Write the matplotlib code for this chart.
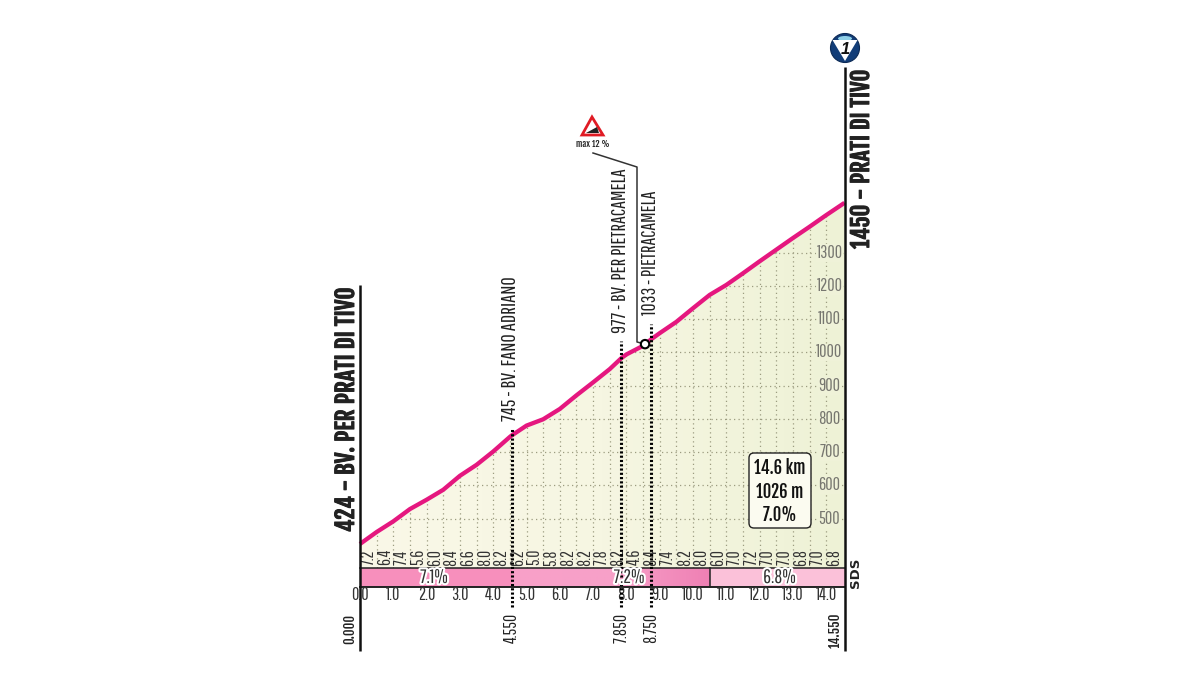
import numpy as np
import matplotlib
matplotlib.use("Agg")
import matplotlib.pyplot as plt
from matplotlib.colors import LinearSegmentedColormap
from matplotlib.patches import Polygon, FancyBboxPatch, Circle, Ellipse
import matplotlib.patheffects as pe

## profile data
km = [0.0, 0.5, 1.0, 1.5, 2.0, 2.5, 3.0, 3.5, 4.0, 4.5, 4.55, 5.0, 5.5, 6.0, 6.5, 7.0, 7.5,
      7.85, 8.0, 8.5, 8.75, 9.0, 9.5, 10.0, 10.5, 11.0, 11.5, 12.0, 12.5, 13.0, 13.5, 14.0, 14.55]
elev = [424, 460, 492, 529, 557, 587, 629, 662, 702, 746, 750, 780, 799, 830, 871, 910, 950,
        983, 994, 1020, 1040, 1058, 1092, 1133, 1173, 1203, 1238, 1274, 1309, 1344, 1378, 1413, 1450]

gradients = ["7.2", "6.4", "7.4", "5.6", "6.0", "8.4", "6.6", "8.0", "8.2", "6.2", "5.0", "5.8",
             "8.2", "8.2", "7.8", "8.2", "4.6", "8.4", "7.4", "8.2", "8.0", "6.0", "7.0", "7.2",
             "7.0", "7.0", "6.8", "7.0", "6.8"]
km_ticks = [1.0, 2.0, 3.0, 4.0, 5.0, 6.0, 7.0, 8.0, 9.0, 10.0, 11.0, 12.0, 13.0, 14.0]
elev_ticks = [500, 600, 700, 800, 900, 1000, 1100, 1200, 1300]

section_edges = [0.0, 4.55, 10.5, 14.55]
section_labels = ["7.1%", "7.2%", "6.8%"]
section_label_km = [2.22, 8.08, 12.6]

waypoint_km = [4.55, 7.85, 8.75]
waypoint_km_labels = ["4.550", "7.850", "8.750"]
waypoint_names = ["745 - BV. FANO ADRIANO", "977 - BV. PER PIETRACAMELA", "1033 - PIETRACAMELA"]

steep_km = 8.56
steep_elev = 1025

## pixel places of the waypoint decorations
waypoint_line_top = [429, 341, 324]
waypoint_label_bottom = [421, 333, 315]
waypoint_label_len = [144, 162, 123]

FONT = ["Pathway Gothic One", "PT Sans Narrow", "Liberation Sans", "DejaVu Sans"]
FONT_BOLD = ["Fjalla One", "PT Sans Narrow", "Liberation Sans", "DejaVu Sans"]
PINK = "#e5177f"
GRID = "#9c9c80"
heavy = [pe.withStroke(linewidth=0.7, foreground="#222222")]

fig = plt.figure(figsize=(12, 6.75), dpi=100, facecolor="white")

## main axes covers the whole figure: 33.3 px per km, 0.3325 px per m
ax = fig.add_axes([0, 0, 1, 1])
ax.axis("off")
xlim = (-360 / 33.3, (1200 - 360) / 33.3)
ylim = (500 - (675 - 518.7) / 0.3325, 500 + 518.7 / 0.3325)
base_elev = 352
band_top = 351
band_bottom = 295


def fit(t, length):
    ## scale a text so its long side is length pixels, whichever font was found
    box = t.get_window_extent(fig.canvas.get_renderer())
    t.set_fontsize(t.get_fontsize() * length / max(box.width, box.height))
    return t


## filled area under the climb
poly = Polygon([(0, base_elev)] + list(zip(km, elev)) + [(14.55, base_elev)], closed=True,
               transform=ax.transData, facecolor="none", edgecolor="none")
ax.add_patch(poly)
fill_cmap = LinearSegmentedColormap.from_list("fill", ["#faf8e8", "#f6f6e2", "#eef2d6"])
img = ax.imshow(np.linspace(0, 1, 256).reshape(1, -1), cmap=fill_cmap, aspect="auto",
                extent=(0, 14.55, base_elev, 1450), zorder=1)
img.set_clip_path(poly)

## grid
for e in elev_ticks:
    l, = ax.plot([0, 14.55], [e, e], color=GRID, lw=0.9, ls=(0, (1, 2.6)), zorder=2)
    l.set_clip_path(poly)
for x in np.arange(0.5, 14.5, 0.5):
    ax.plot([x, x], [base_elev, np.interp(x, km, elev)], color=GRID, lw=0.9, ls=(0, (1, 2.6)), zorder=2)

## gradient per half km
for i, g in enumerate(gradients):
    ax.text(0.25 + i * 0.5, 384, g, rotation=90, ha="center", va="center", fontsize=12.5,
            family=FONT, color="#333333", zorder=3)

## gradient sections band
ax.fill_between([section_edges[0], section_edges[1]], band_bottom, band_top, color="#f78fbc", lw=0, zorder=2)
band_cmap = LinearSegmentedColormap.from_list("band", ["#f9a0c8", "#f7a0c8", "#ef80b4"])
ax.imshow(np.linspace(0, 1, 128).reshape(1, -1), cmap=band_cmap, aspect="auto",
          extent=(section_edges[1], section_edges[2], band_bottom, band_top), zorder=2)
ax.fill_between([section_edges[2], section_edges[3]], band_bottom, band_top, color="#fbc1d9", lw=0, zorder=2)
ax.plot([0, 14.55], [band_top, band_top], color="#222222", lw=1.1, zorder=3)
ax.plot([0, 14.55], [band_bottom, band_bottom], color="#222222", lw=1.4, zorder=3)
ax.plot([10.5, 10.5], [band_bottom, band_top], color="#222222", lw=1.1, zorder=3)

## km and elevation scales
ax.text(0, 271, "0.0", ha="center", va="center", fontsize=13, family=FONT, color="#333333")
for x in km_ticks:
    ax.text(x, 271, "%.1f" % x, ha="center", va="center", fontsize=13, family=FONT, color="#333333")
for e in elev_ticks:
    ax.text(14.1, e, str(e), ha="center", va="center", fontsize=13, family=FONT, color="#777770", zorder=3,
            bbox=dict(facecolor="#eff2d8", edgecolor="none", pad=0.6))

ax.set_xlim(xlim)
ax.set_ylim(ylim)

## overlay in pixels for the decorations
ov = fig.add_axes([0, 0, 1, 1], facecolor="none")
ov.axis("off")
ov.set_xlim(0, 1200)
ov.set_ylim(675, 0)

## waypoints
for x, name, lab, top, bottom, length in zip(waypoint_km, waypoint_names, waypoint_km_labels,
                                             waypoint_line_top, waypoint_label_bottom, waypoint_label_len):
    xp = 360 + x * 33.3
    ov.plot([xp, xp], [607, top], color="black", lw=2.2, ls=(0, (0.7, 0.7)), zorder=4)
    fit(ov.text(xp - 1, bottom, name, rotation=90, ha="center", va="bottom", fontsize=12,
                family=FONT, color="#222222"), length)
    fit(ov.text(xp, 643, lab, rotation=90, ha="center", va="bottom", fontsize=13,
                family=FONT, color="#222222"), 30)

## section labels sit over the dotted lines
for x, s in zip(section_label_km, section_labels):
    ov.text(360 + x * 33.3, 577.5, s, ha="center", va="center", fontsize=14, family=FONT,
            color="#333333", zorder=6, path_effects=[pe.withStroke(linewidth=3, foreground="white")])

## climb line
ax.plot(km, elev, color=PINK, lw=3.1, solid_capstyle="butt", solid_joinstyle="round", zorder=6)

ov.plot([360, 360], [285, 651], color="#111111", lw=1.8, solid_capstyle="butt")
ov.plot([844.7, 844.7], [67, 651], color="#111111", lw=1.8, solid_capstyle="butt")

fit(ov.text(346, 532, "424 - BV. PER PRATI DI TIVO", rotation=90, ha="center", va="bottom",
            fontsize=20, family=FONT_BOLD, color="#222222", path_effects=heavy), 244)
fit(ov.text(861, 249, "1450 - PRATI DI TIVO", rotation=90, ha="center", va="bottom",
            fontsize=20, family=FONT_BOLD, color="#222222", path_effects=heavy), 179)
fit(ov.text(350, 644, "0.000", rotation=90, ha="center", va="bottom", fontsize=13,
            family=FONT_BOLD, color="#222222"), 30)
fit(ov.text(835, 648, "14.550", rotation=90, ha="center", va="bottom", fontsize=14,
            family=FONT_BOLD, color="#222222"), 36)
fit(ov.text(856, 573, "SDS", rotation=90, ha="center", va="center", fontsize=10, fontweight="bold",
            family="DejaVu Sans", color="#222222"), 30)

## summary box
ov.add_patch(FancyBboxPatch((749, 453), 62, 75, boxstyle="round,pad=0,rounding_size=5", transform=ov.transData,
                            facecolor="#fbfbf0", edgecolor="#222222", lw=1.0, mutation_aspect=1, zorder=4))
for y, t in zip([468, 492, 515], ["14.6 km", "1026 m", "7.0%"]):
    ov.text(780, y, t, ha="center", va="center", fontsize=12, family=FONT_BOLD,
            color="#111111", zorder=5)

## steepest point marker
ov.plot([593, 637, 637, 645], [153, 167, 342, 344], color="#333333", lw=1.1, zorder=5)
ov.add_patch(Circle((360 + steep_km * 33.3, 518.7 - (steep_elev - 500) * 0.3325), 4.2, facecolor="white",
                    edgecolor="black", lw=1.5, zorder=7))
ov.add_patch(Polygon([(592, 117), (582, 135), (603, 135)], closed=True, facecolor="white",
                     edgecolor="#e01b24", lw=2.0, joinstyle="miter", zorder=5))
ov.add_patch(Polygon([(586, 133), (599, 133), (597, 127)], closed=True, facecolor="#222222",
                     edgecolor="none", zorder=6))
fit(ov.text(593, 144, "max 12 %", ha="center", va="center", fontsize=8, family=FONT_BOLD,
            color="#222222"), 34)

## summit badge
ov.add_patch(Circle((845, 48), 14.5, facecolor="#123d78", edgecolor="#0c2a55", lw=0.8, zorder=5))
ov.add_patch(Polygon([(832.5, 40), (857.5, 40), (845, 61)], closed=True, facecolor="white",
                     edgecolor="none", zorder=6))
ov.add_patch(Ellipse((845, 38.5), 14, 5, facecolor="#8fd0e8", edgecolor="none", zorder=5.5))
ov.text(845, 50, "1", ha="center", va="center", fontsize=12, fontweight="bold", style="italic",
        family="Liberation Sans", color="#111111", zorder=8)

plt.savefig("out.png", dpi=100)
